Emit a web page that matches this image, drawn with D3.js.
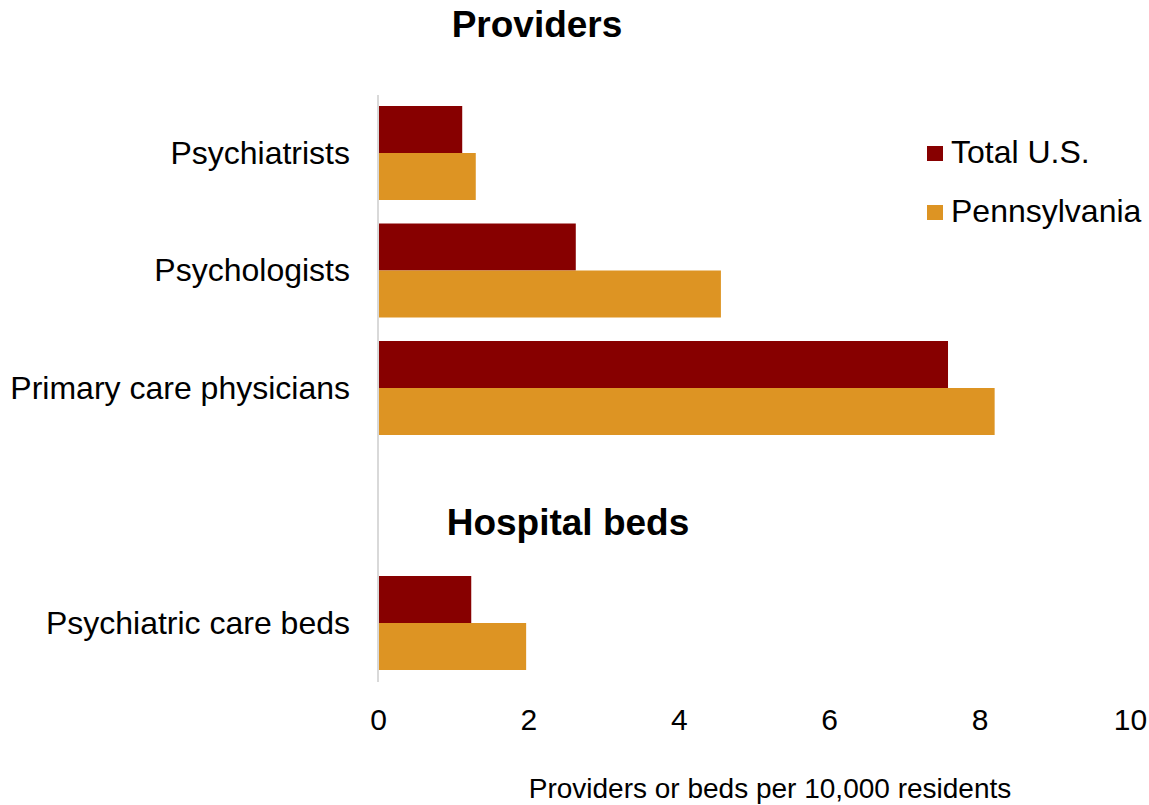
<!DOCTYPE html>
<html>
<head>
<meta charset="utf-8">
<script src="https://cdn.jsdelivr.net/npm/d3@7"></script>
<style>
  html, body { margin: 0; padding: 0; background: #fff; }
  svg { display: block; font-family: "Liberation Sans", Arial, sans-serif; }
</style>
</head>
<body>
<svg id="chart" width="1149" height="805"></svg>
<script>
// ---- data ----
const categories = ["Psychiatrists", "Psychologists", "Primary care physicians", "", "Psychiatric care beds"];
const seriesNames = ["Total U.S.", "Pennsylvania"];
const totalUS = [1.12, 2.63, 7.58, null, 1.24];
const pennsylvania = [1.30, 4.56, 8.20, null, 1.97];
const xTicks = [0, 2, 4, 6, 8, 10];
const groupTitles = ["Providers", "Hospital beds"];
const axisTitle = "Providers or beds per 10,000 residents";
const colors = ["#870000", "#DD9423"];

const svg = d3.select("#chart");

const x = d3.scaleLinear().domain([0, 10]).range([378, 1130]);
const y = d3.scaleBand().domain(d3.range(categories.length)).range([94.25, 681.75])
  .paddingInner(0.2).paddingOuter(0.1);
const ySub = d3.scaleBand().domain([0, 1]).range([0, y.bandwidth()]);

const series = [totalUS, pennsylvania];

// bars
series.forEach((vals, si) => {
  svg.append("g").selectAll("rect")
    .data(vals.map((v, i) => ({ v, i })).filter(d => d.v !== null))
    .join("rect")
    .attr("x", x(0))
    .attr("y", d => y(d.i) + ySub(si))
    .attr("width", d => x(d.v) - x(0))
    .attr("height", ySub.bandwidth())
    .attr("fill", colors[si]);
});

// vertical axis line
svg.append("line")
  .attr("x1", x(0)).attr("x2", x(0))
  .attr("y1", 95).attr("y2", 682)
  .attr("stroke", "#d9d9d9").attr("stroke-width", 2);

// category labels
svg.append("g").selectAll("text")
  .data(categories.map((c, i) => ({ c, i })).filter(d => d.c))
  .join("text")
  .attr("x", 350)
  .attr("y", d => y(d.i) + y.bandwidth() / 2 + 10.5)
  .attr("text-anchor", "end")
  .attr("font-size", 32)
  .attr("fill", "#000")
  .text(d => d.c);

// x axis tick labels (via d3 axis, no domain/ticks lines)
const xAxis = d3.axisBottom(x).tickValues(xTicks).tickSize(0).tickPadding(0).tickFormat(d3.format("d"));
const gx = svg.append("g").attr("transform", "translate(0,700)").call(xAxis);
gx.select(".domain").remove();
gx.selectAll("text")
  .attr("font-size", 30)
  .attr("font-family", "'Liberation Sans', Arial, sans-serif")
  .attr("fill", "#000")
  .attr("dy", 0)
  .attr("y", 30);

// axis title
svg.append("text")
  .attr("x", 770).attr("y", 798)
  .attr("text-anchor", "middle")
  .attr("font-size", 28)
  .attr("fill", "#000")
  .text(axisTitle);

// group titles
svg.append("text")
  .attr("x", 537).attr("y", 37)
  .attr("text-anchor", "middle")
  .attr("font-size", 37).attr("font-weight", "bold")
  .text(groupTitles[0]);
svg.append("text")
  .attr("x", 568).attr("y", 535)
  .attr("text-anchor", "middle")
  .attr("font-size", 37).attr("font-weight", "bold")
  .text(groupTitles[1]);

// legend
const legend = svg.append("g");
seriesNames.forEach((name, i) => {
  const ly = 146 + i * 59;
  legend.append("rect")
    .attr("x", 927).attr("y", ly).attr("width", 16).attr("height", 15)
    .attr("fill", colors[i]);
  legend.append("text")
    .attr("x", 951).attr("y", ly + 17)
    .attr("font-size", 32)
    .attr("fill", "#000")
    .text(name);
});
</script>
</body>
</html>
